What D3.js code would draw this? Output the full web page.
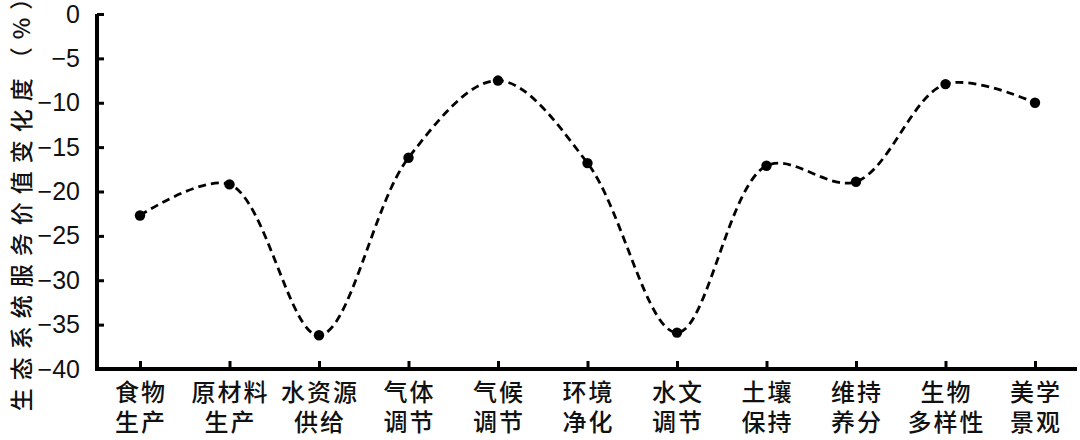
<!DOCTYPE html>
<html>
<head>
<meta charset="utf-8">
<script src="https://cdn.jsdelivr.net/npm/d3@7"></script>
<style>
  body { margin: 0; background: #fff; }
  svg { display: block; }
  .tick text { font-family: "Liberation Sans Narrow", "Liberation Sans", Arial, sans-serif; }
</style>
</head>
<body>
<svg id="chart"></svg>
<script>
// categories (two lines per label)
var categories = ["食物生产", "原材料生产", "水资源供给", "气体调节", "气候调节", "环境净化",
    "水文调节", "土壤保持", "维持养分", "生物多样性", "美学景观"];
var labelLine1 = ["食物", "原材料", "水资源", "气体", "气候", "环境", "水文", "土壤", "维持", "生物", "美学"];
var labelLine2 = ["生产", "生产", "供给", "调节", "调节", "净化", "调节", "保持", "养分", "多样性", "景观"];
// change of ecosystem service value (%)
var values = [-22.7, -19.2, -36.2, -16.2, -7.5, -16.8, -35.9, -17.1, -18.9, -7.9, -10.0];
var yTicks = [0, -5, -10, -15, -20, -25, -30, -35, -40];
var yTitle = "生态系统服务价值变化度（%）";

var width = 1080, height = 440;
var mLeft = 97, mRight = 1077, mTop = 14, mBottom = 369;

var svg = d3.select("#chart")
    .attr("width", width)
    .attr("height", height);

var xscale = d3.scalePoint().domain(categories).range([140, 1035]);
var yscale = d3.scaleLinear().domain([-40, 0]).range([mBottom, mTop]);

// y axis
var yaxis = d3.axisLeft(yscale)
    .tickValues(yTicks)
    .tickSize(-7)
    .tickSizeOuter(0)
    .tickPadding(17)
    .tickFormat(function (d) { return d === 0 ? "0" : "\u2212" + Math.abs(d); });
var gy = svg.append("g")
    .attr("transform", "translate(" + mLeft + ",0)")
    .call(yaxis);
gy.select(".domain").remove();
gy.selectAll(".tick line").attr("stroke", "#000").attr("stroke-width", 3);
gy.selectAll(".tick text")
    .style("font-size", "25px")
    .attr("fill", "#111");

// x axis (ticks only, labels drawn below)
var xaxis = d3.axisBottom(xscale)
    .tickSize(-8)
    .tickSizeOuter(0)
    .tickFormat("");
var gx = svg.append("g")
    .attr("transform", "translate(0," + mBottom + ")")
    .call(xaxis);
gx.select(".domain").remove();
gx.selectAll(".tick line").attr("stroke", "#000").attr("stroke-width", 3);

// axis lines
svg.append("path")
    .attr("d", "M" + mLeft + "," + mTop + "V" + mBottom + "H" + mRight)
    .attr("fill", "none")
    .attr("stroke", "#000")
    .attr("stroke-width", 4);

// category labels
var labels = svg.append("g")
    .style("font-family", "'Noto Sans CJK SC', sans-serif")
    .style("font-size", "24px")
    .style("font-weight", 500)
    .attr("fill", "#111")
    .attr("text-anchor", "middle");
categories.forEach(function (c, i) {
    var t = labels.append("text")
        .style("letter-spacing", "2px");
    t.append("tspan").attr("x", xscale(c) + 1).attr("y", 401).text(labelLine1[i]);
    t.append("tspan").attr("x", xscale(c) + 1).attr("y", 431).text(labelLine2[i]);
});

// y title
svg.append("text")
    .attr("transform", "translate(22,195) rotate(-90)")
    .attr("text-anchor", "middle")
    .attr("dy", "0.35em")
    .style("font-family", "'Noto Sans CJK SC', sans-serif")
    .style("font-size", "23px")
    .style("font-weight", 500)
    .style("letter-spacing", "8px")
    .attr("fill", "#111")
    .text(yTitle);

// dashed curve
var line = d3.line()
    .x(function (d, i) { return xscale(categories[i]); })
    .y(function (d) { return yscale(d); })
    .curve(d3.curveCatmullRom.alpha(0.5));
svg.append("path")
    .datum(values)
    .attr("d", line)
    .attr("fill", "none")
    .attr("stroke", "#000")
    .attr("stroke-width", 2.8)
    .attr("stroke-dasharray", "8,5");

// points
svg.selectAll("circle.pt")
    .data(values)
    .enter()
    .append("circle")
    .attr("class", "pt")
    .attr("cx", function (d, i) { return xscale(categories[i]); })
    .attr("cy", function (d) { return yscale(d); })
    .attr("r", 5.2)
    .attr("fill", "#000");
</script>
</body>
</html>
